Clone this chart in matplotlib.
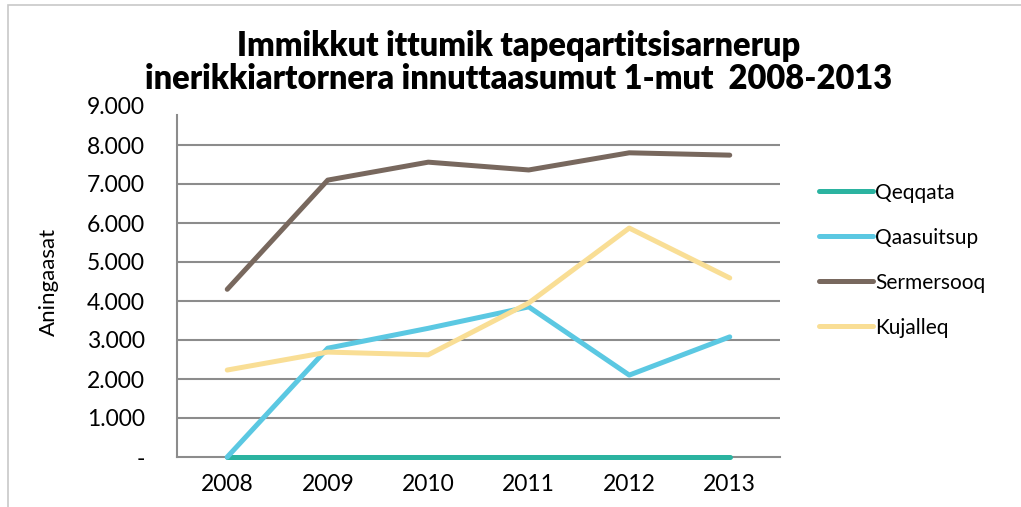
import matplotlib.pyplot as plt
from matplotlib.patches import Rectangle
from matplotlib.ticker import FuncFormatter
import numpy as np

plt.rcParams['font.family'] = ['Lato', 'DejaVu Sans']

years = ['2008', '2009', '2010', '2011', '2012', '2013']
qeqqata = [0, 0, 0, 0, 0, 0]
qaasuitsup = [0, 2790, 3300, 3850, 2100, 3080]
sermersooq = [4300, 7100, 7560, 7360, 7800, 7740]
kujalleq = [2230, 2690, 2620, 3950, 5870, 4590]

series = [
    ('Qeqqata', qeqqata, '#2BB3A0'),
    ('Qaasuitsup', qaasuitsup, '#5BC8E2'),
    ('Sermersooq', sermersooq, '#78685E'),
    ('Kujalleq', kujalleq, '#F9DE95'),
]

fig = plt.figure(figsize=(10.21, 5.07), dpi=100)
# outer chart frame
fig.patches.append(Rectangle((8 / 1021, -0.05), 1.2, 1.04 - 5 / 507 + 0.01,
                             transform=fig.transFigure, fill=False,
                             edgecolor='#C8C8C8', linewidth=1.2))

ax = fig.add_axes([177 / 1021, 1 - 457 / 507, 603 / 1021, 351 / 507])
x = np.arange(len(years))
for name, vals, col in series:
    ax.plot(x, vals, color=col, linewidth=3.6, label=name, zorder=3,
            solid_capstyle='round', solid_joinstyle='round', clip_on=False)

ax.set_xlim(-0.5, 5.5)
ax.set_ylim(0, 9000)
ax.set_yticks(np.arange(0, 9001, 1000))
ax.set_xticks(x)
ax.set_xticklabels(years)

def fmt(v, pos):
    if v == 0:
        return '-'
    return f'{int(v):,}'.replace(',', '.')

ax.yaxis.set_major_formatter(FuncFormatter(fmt))
ax.tick_params(axis='both', length=0, labelsize=16.5)
ax.tick_params(axis='y', pad=23)
ax.tick_params(axis='x', pad=12)
for lbl in ax.get_yticklabels():
    lbl.set_horizontalalignment('right')

for yv in range(1000, 9000, 1000):
    ax.axhline(yv, color='#8C8C8C', linewidth=1.5, zorder=0)

for s in ['top', 'right']:
    ax.spines[s].set_visible(False)
for s in ['left', 'bottom']:
    ax.spines[s].set_color('#8C8C8C')
    ax.spines[s].set_linewidth(1.5)
    ax.spines[s].set_zorder(1)
ax.spines['left'].set_bounds(0, 8780)

ax.set_ylabel('Aningaasat', fontsize=16, labelpad=20)

fig.text(0.508, 1 - 46 / 507, 'Immikkut ittumik tapeqartitsisarnerup',
         ha='center', va='center', fontsize=23.5, fontweight='heavy')
fig.text(0.508, 1 - 79 / 507, 'inerikkiartornera innuttaasumut 1-mut  2008-2013',
         ha='center', va='center', fontsize=23.5, fontweight='heavy')

ax.legend(loc='upper left', bbox_to_anchor=(800 / 1021, 1 - 164 / 507),
          bbox_transform=fig.transFigure, frameon=False, fontsize=15,
          handlelength=2.6, handletextpad=0.1, labelspacing=1.2)

fig.savefig('out.png', dpi=100)
